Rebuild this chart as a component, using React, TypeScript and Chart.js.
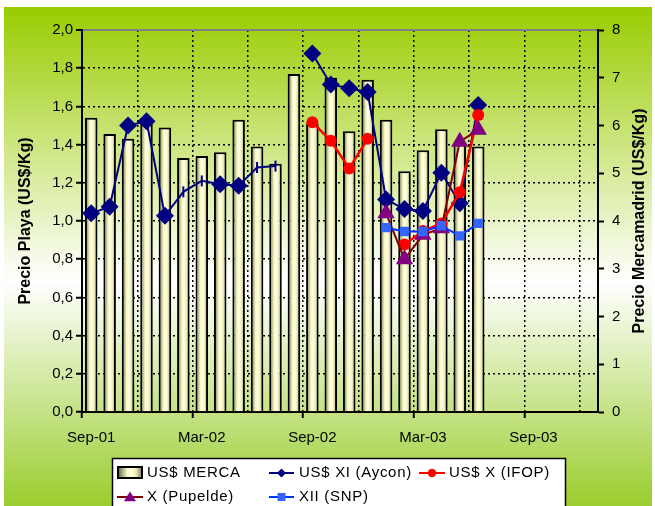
import React, { useEffect, useRef } from 'react';
import { Chart, registerables } from 'chart.js';

Chart.register(...registerables);

// ---- DATA ----
const months = [
  'Sep-01', 'Oct-01', 'Nov-01', 'Dec-01',
  'Jan-02', 'Feb-02', 'Mar-02', 'Apr-02', 'May-02', 'Jun-02', 'Jul-02', 'Aug-02', 'Sep-02', 'Oct-02', 'Nov-02', 'Dec-02',
  'Jan-03', 'Feb-03', 'Mar-03', 'Apr-03', 'May-03', 'Jun-03', 'Jul-03', 'Aug-03', 'Sep-03', 'Oct-03', 'Nov-03', 'Dec-03',
];
const shownMonthLabels = ['Sep-01', 'Mar-02', 'Sep-02', 'Mar-03', 'Sep-03'];

const mercaUSD = [1.54, 1.455, 1.43, 1.54, 1.49, 1.33, 1.34, 1.36, 1.53, 1.39, 1.30, 1.77, 1.51, 1.75, 1.47, 1.74, 1.53, 1.26, 1.37, 1.48, 1.41, 1.39];
const ayconUSD = [4.16, 4.30, 6.00, 6.09, 4.11, 4.61, 4.84, 4.77, 4.74, 5.12, 5.15, null, 7.51, 6.86, 6.78, 6.70, 4.45, 4.25, 4.21, 5.01, 4.37, 6.43];
const ifopUSD = [null, null, null, null, null, null, null, null, null, null, null, null, 6.07, 5.68, 5.10, 5.72, null, 3.51, 3.79, 3.95, 4.60, 6.22];
const pupeldeUSD = [null, null, null, null, null, null, null, null, null, null, null, null, null, null, null, null, 4.16, 3.20, 3.71, 3.85, 5.66, 5.91];
const snpUSD = [null, null, null, null, null, null, null, null, null, null, null, null, null, null, null, null, 3.86, 3.78, 3.78, 3.90, 3.69, 3.95];

const seriesLabels = ['US$ MERCA', 'US$ XI (Aycon)', 'US$ X (IFOP)', 'X (Pupelde)', 'XII (SNP)'];
const leftTitle = 'Precio Playa (US$/Kg)';
const rightTitle = 'Precio Mercamadrid (US$/Kg)';

const FONT = '"Liberation Sans", Arial, sans-serif';

function cylGradient(ctx: CanvasRenderingContext2D, x0: number, x1: number) {
  const g = ctx.createLinearGradient(x0, 0, x1, 0);
  g.addColorStop(0, '#5f5f48');
  g.addColorStop(0.18, '#a8a886');
  g.addColorStop(0.38, '#f8f8c4');
  g.addColorStop(0.55, '#ffffe2');
  g.addColorStop(0.75, '#ececb8');
  g.addColorStop(1, '#7a7a60');
  return g;
}

const bgPlugin = {
  id: 'bgPlugin',
  beforeDraw(chart: any) {
    const ctx = chart.ctx as CanvasRenderingContext2D;
    const g = ctx.createLinearGradient(0, 7, 0, 506);
    g.addColorStop(0, '#99CC00');
    g.addColorStop(0.55, '#FFFFFF');
    g.addColorStop(1, '#9ACD2E');
    ctx.save();
    ctx.fillStyle = g;
    ctx.fillRect(4, 7, 648, 499);
    ctx.restore();
  },
};

function drawMarker(ctx: CanvasRenderingContext2D, kind: string, x: number, y: number, r: number, color: string) {
  ctx.save();
  ctx.fillStyle = color;
  ctx.strokeStyle = color;
  ctx.beginPath();
  if (kind === 'diamond') {
    ctx.moveTo(x - r, y); ctx.lineTo(x, y - r); ctx.lineTo(x + r, y); ctx.lineTo(x, y + r); ctx.closePath();
  } else if (kind === 'circle') {
    ctx.arc(x, y, r, 0, Math.PI * 2);
  } else if (kind === 'triangle') {
    ctx.moveTo(x, y - r); ctx.lineTo(x + r * 1.1, y + r * 0.75); ctx.lineTo(x - r * 1.1, y + r * 0.75); ctx.closePath();
  } else if (kind === 'square') {
    ctx.rect(x - r, y - r, 2 * r, 2 * r);
  }
  ctx.fill();
  ctx.restore();
}

const overlayPlugin = {
  id: 'overlayPlugin',
  afterDraw(chart: any) {
    const ctx = chart.ctx as CanvasRenderingContext2D;
    const area = chart.chartArea;
    // right axis title (reads bottom to top)
    ctx.save();
    ctx.translate(640, (area.top + area.bottom) / 2);
    ctx.rotate(-Math.PI / 2);
    ctx.font = 'bold 16px ' + FONT;
    ctx.fillStyle = '#000';
    ctx.textAlign = 'center';
    ctx.textBaseline = 'middle';
    ctx.fillText(rightTitle, 0, 0);
    ctx.restore();

    // legend
    ctx.save();
    ctx.fillStyle = '#fff';
    ctx.fillRect(112, 458, 454, 60);
    ctx.strokeStyle = '#000';
    ctx.lineWidth = 1.5;
    ctx.strokeRect(112.5, 458.5, 453, 60);

    const r1 = 473, r2 = 497;
    // bar symbol
    ctx.fillStyle = cylGradient(ctx, 118, 142);
    ctx.fillRect(118, 467, 24, 11);
    ctx.lineWidth = 2;
    ctx.strokeStyle = '#000';
    ctx.strokeRect(118, 467, 24, 11);

    const lineSym = (x0: number, x1: number, y: number, lineColor: string, kind: string, mColor: string, r: number) => {
      ctx.save();
      ctx.strokeStyle = lineColor;
      ctx.lineWidth = 2;
      ctx.beginPath();
      ctx.moveTo(x0, y); ctx.lineTo(x1, y);
      ctx.stroke();
      ctx.restore();
      drawMarker(ctx, kind, (x0 + x1) / 2, y, r, mColor);
    };
    lineSym(269, 294, r1, '#000080', 'diamond', '#000080', 4.5);
    lineSym(419, 445, r1, '#FF0000', 'circle', '#FF0000', 4.2);
    lineSym(117, 143, r2, '#800000', 'triangle', '#800080', 5.5);
    lineSym(269, 294, r2, '#0033FF', 'square', '#3366FF', 4);

    ctx.fillStyle = '#000';
    ctx.font = '15px ' + FONT;
    (ctx as any).letterSpacing = '0.7px';
    ctx.textAlign = 'left';
    ctx.textBaseline = 'middle';
    ctx.fillText(seriesLabels[0], 147, r1);
    ctx.fillText(seriesLabels[1], 299, r1);
    ctx.fillText(seriesLabels[2], 449, r1);
    ctx.fillText(seriesLabels[3], 147, r2);
    ctx.fillText(seriesLabels[4], 299, r2);
    ctx.restore();
  },
};

const dashIdx = [5, 6, 9, 10];

export default function App() {
  const ref = useRef<HTMLCanvasElement>(null);

  useEffect(() => {
    if (!ref.current) return;
    Chart.defaults.font.family = FONT;
    Chart.defaults.color = '#000';

    const isTop = (c: any) => c.tick && Math.abs(c.tick.value - 2) < 1e-6;
    const isZero = (c: any) => c.tick && Math.abs(c.tick.value) < 1e-6;

    const chart = new Chart(ref.current, {
      type: 'bar',
      data: {
        labels: months,
        datasets: [
          {
            type: 'line',
            label: seriesLabels[4],
            data: snpUSD,
            yAxisID: 'y1',
            borderColor: '#0033FF',
            borderWidth: 2,
            pointStyle: 'rect',
            pointRadius: 6.6,
            pointBackgroundColor: '#3366FF',
            pointBorderColor: '#3366FF',
            pointBorderWidth: 0,
            spanGaps: false,
            tension: 0,
            order: 1,
          },
          {
            type: 'line',
            label: seriesLabels[3],
            data: pupeldeUSD,
            yAxisID: 'y1',
            borderColor: '#800000',
            borderWidth: 2,
            pointStyle: 'triangle',
            pointRadius: 10,
            pointBackgroundColor: '#800080',
            pointBorderColor: '#800080',
            pointBorderWidth: 0,
            spanGaps: false,
            tension: 0,
            order: 2,
          },
          {
            type: 'line',
            label: seriesLabels[2],
            data: ifopUSD,
            yAxisID: 'y1',
            borderColor: '#FF0000',
            borderWidth: 2.5,
            pointStyle: 'circle',
            pointRadius: 6,
            pointBackgroundColor: '#FF0000',
            pointBorderColor: '#FF0000',
            pointBorderWidth: 0,
            spanGaps: false,
            tension: 0,
            order: 3,
          },
          {
            type: 'line',
            label: seriesLabels[1],
            data: ayconUSD,
            yAxisID: 'y1',
            borderColor: '#000080',
            borderWidth: 2,
            pointStyle: ayconUSD.map((_, i) => (dashIdx.includes(i) ? 'line' : 'rectRot')) as any,
            pointRotation: ayconUSD.map((_, i) => (dashIdx.includes(i) ? 90 : 0)),
            pointRadius: ayconUSD.map((_, i) => (dashIdx.includes(i) ? 5.5 : 9)),
            pointBackgroundColor: '#000080',
            pointBorderColor: '#000080',
            pointBorderWidth: ayconUSD.map((_, i) => (dashIdx.includes(i) ? 2 : 0)),
            spanGaps: false,
            tension: 0,
            order: 4,
          },
          {
            type: 'bar',
            label: seriesLabels[0],
            data: mercaUSD,
            yAxisID: 'y',
            backgroundColor: (c: any) => {
              const chart = c.chart;
              const area = chart.chartArea;
              if (!area || c.dataIndex == null || !isFinite(area.left) || !isFinite(area.right)) return '#f4f4c4';
              const step = (area.right - area.left) / months.length;
              const cx = area.left + (c.dataIndex + 0.5) * step;
              if (!isFinite(cx)) return '#f4f4c4';
              return cylGradient(chart.ctx, cx - 6.25, cx + 6.25);
            },
            borderColor: '#000',
            borderWidth: 2,
            borderSkipped: 'start',
            barPercentage: 0.68,
            categoryPercentage: 1,
            order: 5,
          },
        ] as any,
      },
      options: {
        responsive: false,
        animation: false,
        layout: { padding: { top: 30, bottom: 54, left: 0, right: 0 } },
        plugins: { legend: { display: false }, tooltip: { enabled: false } },
        scales: {
          x: {
            type: 'category',
            offset: true,
            grid: {
              offset: true,
              drawOnChartArea: true,
              color: (c: any) => (c.index !== undefined && c.index > 0 && c.index % 3 === 0 ? '#000' : 'rgba(0,0,0,0)'),
              lineWidth: 1.5,
              tickLength: 6,
              tickWidth: 2,
              tickColor: (c: any) => (c.index !== undefined && c.index % 6 === 0 ? '#000' : 'rgba(0,0,0,0)'),
              tickBorderDash: [],
            },
            border: { display: true, color: '#000', width: 2, dash: [2, 3] },
            ticks: {
              autoSkip: false,
              maxRotation: 0,
              minRotation: 0,
              padding: 11,
              color: '#000',
              font: { size: 15 },
              callback: (_v: any, i: number) => (i % 6 === 0 ? shownMonthLabels[i / 6] || '' : ''),
            },
            afterFit: (s: any) => { s.height = 40; },
          },
          y: {
            position: 'left',
            min: 0,
            max: 2,
            ticks: {
              stepSize: 0.2,
              padding: 3,
              color: '#000',
              font: { size: 15 },
              callback: (v: any) => Number(v).toFixed(1).replace('.', ','),
            },
            grid: {
              color: (c: any) => (isTop(c) ? '#808080' : isZero(c) ? 'rgba(0,0,0,0)' : '#000'),
              lineWidth: (c: any) => (isTop(c) ? 2 : 1.5),
              tickLength: 6,
              tickWidth: 2,
              tickColor: '#000',
              tickBorderDash: [],
            },
            border: { display: true, color: '#000', width: 2, dash: (c: any) => (isTop(c) ? [] : [2, 3]) },
            title: {
              display: true,
              text: leftTitle,
              color: '#000',
              font: { size: 16, weight: 'bold' },
              padding: { top: 16, bottom: 0 },
            },
            afterFit: (s: any) => { s.width = 82; },
          },
          y1: {
            position: 'right',
            min: 0,
            max: 8,
            ticks: { stepSize: 1, padding: 8, color: '#000', font: { size: 15 } },
            grid: { drawOnChartArea: false, tickLength: 6, tickWidth: 2, tickColor: '#000' },
            border: { display: true, color: '#000', width: 2 },
            afterFit: (s: any) => { s.width = 57; },
          },
        },
      } as any,
      plugins: [bgPlugin, overlayPlugin],
    });
    return () => chart.destroy();
  }, []);

  return (
    <div style={{ position: 'absolute', left: 0, top: 0, width: 655, height: 506 }}>
      <canvas ref={ref} width={655} height={506} style={{ display: 'block', width: 655, height: 506 }} />
    </div>
  );
}
